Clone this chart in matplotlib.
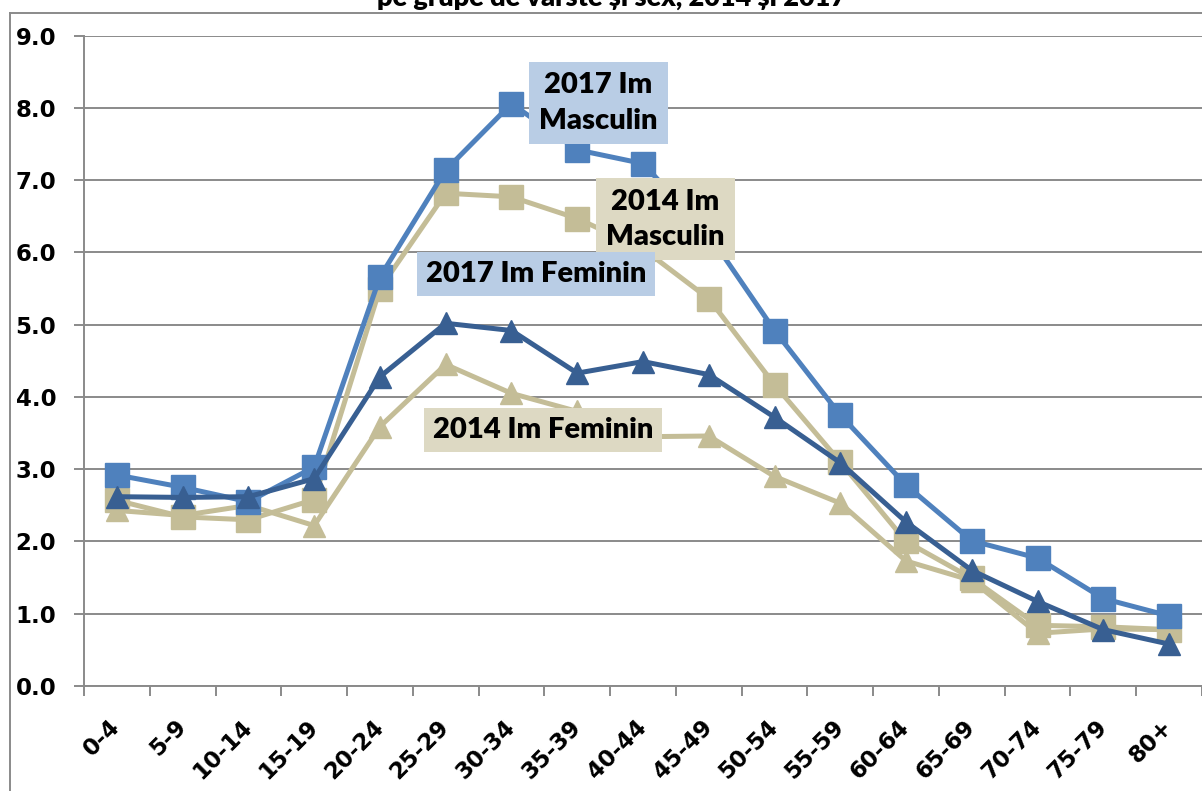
import matplotlib
matplotlib.use('Agg')
import matplotlib.pyplot as plt
from matplotlib.lines import Line2D
import numpy as np

age_groups = ['0-4', '5-9', '10-14', '15-19', '20-24', '25-29', '30-34', '35-39',
              '40-44', '45-49', '50-54', '55-59', '60-64', '65-69', '70-74', '75-79', '80+']
im_masc_2017 = [2.92, 2.75, 2.55, 3.03, 5.66, 7.14, 8.06, 7.42, 7.23, 6.25,
                4.92, 3.75, 2.78, 2.01, 1.77, 1.21, 0.97]
im_fem_2017 = [2.62, 2.61, 2.62, 2.87, 4.28, 5.02, 4.92, 4.33, 4.49, 4.31,
               3.72, 3.09, 2.27, 1.60, 1.17, 0.78, 0.58]
im_masc_2014 = [2.57, 2.34, 2.30, 2.58, 5.50, 6.82, 6.77, 6.47, 6.05, 5.36,
                4.17, 3.10, 2.00, 1.49, 0.84, 0.82, 0.78]
im_fem_2014 = [2.43, 2.36, 2.50, 2.22, 3.59, 4.45, 4.05, 3.80, 3.45, 3.46,
               2.90, 2.53, 1.73, 1.46, 0.73, 0.79, 0.78]

title = 'pe grupe de vârste și sex, 2014 și 2017'

blue = '#4f81bd'
dark_blue = '#385f92'
tan = '#c4bd97'
grid_col = '#8a8a8a'

fig = plt.figure(figsize=(12.02, 7.91), dpi=100)
W, H = 1202, 791
ax = fig.add_axes([84 / W, 105 / H, (W - 84) / W, 650.3 / H])

x = np.arange(len(age_groups))
lw = 3.6
ax.plot(x, im_fem_2014, color=tan, lw=lw, marker='^', ms=16, mec=tan, zorder=3)
ax.plot(x, im_masc_2014, color=tan, lw=lw, marker='s', ms=17, mec=tan, zorder=4)
ax.plot(x, im_masc_2017, color=blue, lw=lw, marker='s', ms=17, mec=blue, zorder=5)
ax.plot(x, im_fem_2017, color=dark_blue, lw=lw, marker='^', ms=16, mec=dark_blue, zorder=6)

ax.set_xlim(-0.5, -0.5 + (W - 84) / 66)
ax.set_ylim(0, 9)

ax.set_yticks(np.arange(0, 9.5, 1))
ax.set_yticklabels(['%.1f' % v for v in np.arange(0, 9.5, 1)])
ax.yaxis.grid(True, color=grid_col, lw=1.4)
ax.set_axisbelow(True)

ax.set_xticks(x)
ax.set_xticklabels(age_groups, rotation=45, ha='right', va='center', rotation_mode='anchor')
ax.set_xticks(np.arange(-0.5, 17, 1), minor=True)
ax.tick_params(axis='x', which='major', length=0, pad=27)
ax.tick_params(axis='x', which='minor', length=7, width=1.4, color=grid_col)
ax.tick_params(axis='y', length=7, width=1.4, color=grid_col, pad=13)
for lab in ax.get_xticklabels() + ax.get_yticklabels():
    lab.set_fontweight('bold')
    lab.set_fontsize(16.5)
    lab.set_fontfamily('DejaVu Sans')

for s in ['top', 'right']:
    ax.spines[s].set_visible(False)
for s in ['left', 'bottom']:
    ax.spines[s].set_color(grid_col)
    ax.spines[s].set_linewidth(1.4)

lab_font = dict(family=['Lato', 'DejaVu Sans'], weight='heavy', fontsize=21)
ax.text(7.32, 8.07, '2017 Im\nMasculin', ha='center', va='center', linespacing=1.45,
        bbox=dict(boxstyle='square,pad=0.35', fc='#b9cde5', ec='none'), zorder=10, **lab_font)
ax.text(8.34, 6.46, '2014 Im\nMasculin', ha='center', va='center', linespacing=1.45,
        bbox=dict(boxstyle='square,pad=0.35', fc='#ddd9c3', ec='none'), zorder=10, **lab_font)
ax.text(6.37, 5.70, '2017 Im Feminin', ha='center', va='center',
        bbox=dict(boxstyle='square,pad=0.3', fc='#b9cde5', ec='none'), zorder=10, **lab_font)
ax.text(6.48, 3.54, '2014 Im Feminin', ha='center', va='center',
        bbox=dict(boxstyle='square,pad=0.3', fc='#ddd9c3', ec='none'), zorder=10, **lab_font)

# chart frame (cropped) and cut-off title
fig.add_artist(Line2D([10 / W, 10 / W], [0, 1 - 13 / H], color=grid_col, lw=1.4))
fig.add_artist(Line2D([10 / W, 1], [1 - 13 / H, 1 - 13 / H], color=grid_col, lw=1.4))
fig.text(612 / W, 1 - 6 / H, title, ha='center', va='baseline',
         family=['Lato', 'DejaVu Sans'], weight='heavy', fontsize=19.5)

fig.savefig('out.png', dpi=100)
